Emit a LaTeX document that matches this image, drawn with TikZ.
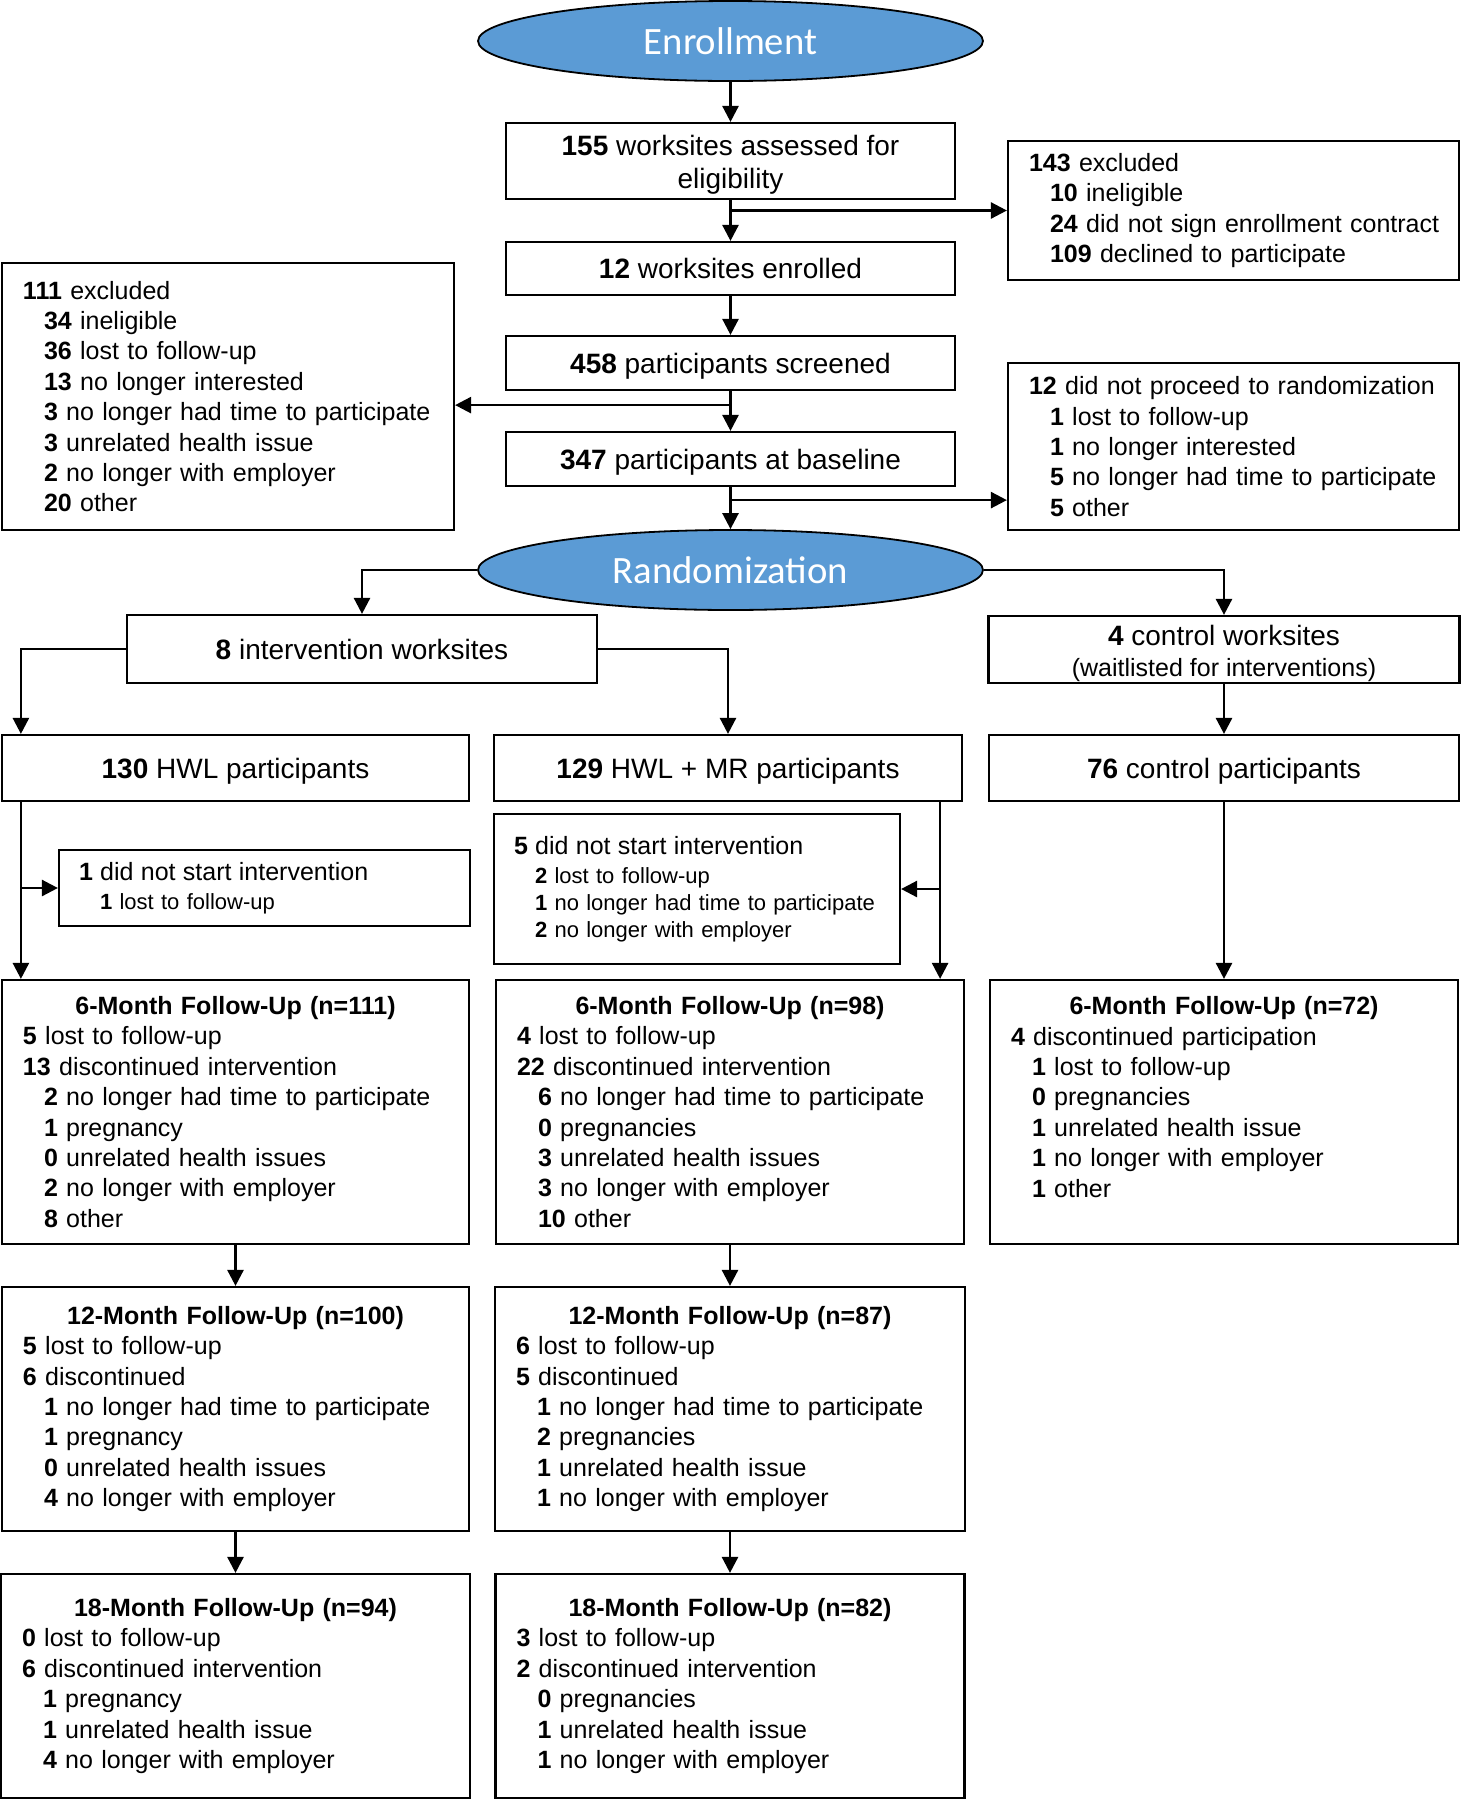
\documentclass[tikz,border=0pt]{standalone}
\usepackage{fontspec}
\setmainfont{Liberation Sans}
\newfontfamily\calibri{Carlito}
\definecolor{stageblue}{RGB}{91, 155, 213}
\usetikzlibrary{positioning, shapes.geometric, calc, arrows.meta}
\newcommand{\boxfont}{\fontsize{14pt}{16.8pt}\selectfont}
\newcommand{\listfont}{\fontsize{12.5pt}{15.2pt}\selectfont}
\newcommand{\dnsfont}{\fontsize{11pt}{13.5pt}\selectfont}
\newcommand{\subitm}{\hspace*{10.5pt}}
\newcommand{\hdr}[1]{\makebox[\hsize]{\textbf{#1}}}

\begin{document}
\begin{tikzpicture}[x=0.5pt, y=-0.5pt,
		stage/.style={ellipse, draw, line width=0.9pt, fill=stageblue, text=white, font=\calibri\fontsize{19.35pt}{23pt}\selectfont, minimum width=252.5pt, minimum height=40pt, inner sep=0pt},
		mainbox/.style={draw, line width=1.1pt, align=center, font=\boxfont, inner sep=0pt, minimum width=224.5pt},
		oneline/.style={mainbox, text height=13pt, text depth=3pt},
		listbox/.style={draw, line width=1.1pt, align=left, font=\listfont, inner xsep=10.5pt, inner ysep=0pt},
		dnsbox/.style={listbox, font=\dnsfont, inner xsep=10pt},
		arr/.style={line width=1.3pt, -{Triangle[length=8pt, width=8pt]}}
		]
		\useasboundingbox (0,0) rectangle (1462,1800);
		
		% enrollment
		\node[stage] (enr) at (730.5,41) {Enrollment};
		\node[mainbox, minimum height=38pt] (site) at (730.5,161) {\rule{0pt}{14pt}\textbf{155} worksites assessed for\\eligibility};
		\node[listbox, text width=204.5pt, minimum height=69.5pt] (excl1) at (1233.5,210.5) {\textbf{143} excluded\\
			\subitm\textbf{10} ineligible\\
			\subitm\mbox{\textbf{24} did not sign enrollment contract}\\
			\subitm\textbf{109} declined to participate};
		\node[oneline, minimum height=26.5pt] (enrolled) at (730.5,268.5) {\textbf{12} worksites enrolled};
		\node[oneline, minimum height=27pt] (screened) at (730.5,363) {\textbf{458} participants screened};
		\node[listbox, text width=205pt, minimum height=133.5pt] (excl2) at (228,396.5) {\textbf{111} excluded\\
			\subitm\textbf{34} ineligible\\
			\subitm\textbf{36} lost to follow-up\\
			\subitm\textbf{13} no longer interested\\
			\subitm\mbox{\textbf{3} no longer had time to participate}\\
			\subitm\textbf{3} unrelated health issue\\
			\subitm\textbf{2} no longer with employer\\
			\subitm\textbf{20} other};
		\node[oneline, minimum height=27pt] (baseline) at (730.5,459) {\textbf{347} participants at baseline};
		\node[listbox, text width=204.5pt, minimum height=83.5pt] (excl3) at (1233.5,446.5) {\mbox{\textbf{12} did not proceed to randomization}\\
			\subitm\textbf{1} lost to follow-up\\
			\subitm\textbf{1} no longer interested\\
			\subitm\mbox{\textbf{5} no longer had time to participate}\\
			\subitm\textbf{5} other};
		
		% randomization
		\node[stage] (rand) at (730.5,570) {Randomization};
		\node[oneline, minimum width=235pt, minimum height=34pt] (intv) at (362,649) {\textbf{8} intervention worksites};
		\node[mainbox, minimum width=235.5pt, minimum height=33.5pt] (ctrlw) at (1224,649.5) {\rule{0pt}{14pt}\textbf{4} control worksites\\[-1pt]{\listfont (waitlisted for interventions)}};
		\node[oneline, minimum width=233.5pt, minimum height=33pt] (hwl) at (235.5,768) {\textbf{130} HWL participants};
		\node[oneline, minimum width=234pt, minimum height=33pt] (hwlmr) at (728,768) {\textbf{129} HWL + MR participants};
		\node[oneline, minimum width=235pt, minimum height=33pt] (ctrl) at (1224,768) {\textbf{76} control participants};
		\node[dnsbox, text width=185.5pt, minimum height=38pt] (dns1) at (264.5,888) {{\listfont\textbf{1} did not start intervention}\\[1pt]
			\subitm\textbf{1} lost to follow-up};
		\node[dnsbox, text width=183pt, minimum height=75pt] (dns2) at (697,889) {{\listfont\textbf{5} did not start intervention}\\[1pt]
			\subitm\textbf{2} lost to follow-up\\
			\subitm\mbox{\textbf{1} no longer had time to participate}\\
			\subitm\textbf{2} no longer with employer};
		
		% follow-up
		\node[listbox, text width=212.5pt, minimum height=132pt] (f6a) at (235.5,1112) {\hdr{6-Month Follow-Up (n=111)}\\
			\textbf{5} lost to follow-up\\
			\textbf{13} discontinued intervention\\
			\subitm\mbox{\textbf{2} no longer had time to participate}\\
			\subitm\textbf{1} pregnancy\\
			\subitm\textbf{0} unrelated health issues\\
			\subitm\textbf{2} no longer with employer\\
			\subitm\textbf{8} other};
		\node[listbox, text width=213pt, minimum height=132pt] (f6b) at (730,1112) {\hdr{6-Month Follow-Up (n=98)}\\
			\textbf{4} lost to follow-up\\
			\textbf{22} discontinued intervention\\
			\subitm\mbox{\textbf{6} no longer had time to participate}\\
			\subitm\textbf{0} pregnancies\\
			\subitm\textbf{3} unrelated health issues\\
			\subitm\textbf{3} no longer with employer\\
			\subitm\textbf{10} other};
		\node[listbox, text width=213pt, minimum height=132pt] (f6c) at (1224,1112) {\hdr{6-Month Follow-Up (n=72)}\\
			\textbf{4} discontinued participation\\
			\subitm\textbf{1} lost to follow-up\\
			\subitm\textbf{0} pregnancies\\
			\subitm\textbf{1} unrelated health issue\\
			\subitm\textbf{1} no longer with employer\\
			\subitm\textbf{1} other\\
			\mbox{}};
		\node[listbox, text width=212.5pt, minimum height=122pt] (f12a) at (235.5,1409) {\hdr{12-Month Follow-Up (n=100)}\\
			\textbf{5} lost to follow-up\\
			\textbf{6} discontinued\\
			\subitm\mbox{\textbf{1} no longer had time to participate}\\
			\subitm\textbf{1} pregnancy\\
			\subitm\textbf{0} unrelated health issues\\
			\subitm\textbf{4} no longer with employer};
		\node[listbox, text width=214pt, minimum height=122pt] (f12b) at (730,1409) {\hdr{12-Month Follow-Up (n=87)}\\
			\textbf{6} lost to follow-up\\
			\textbf{5} discontinued\\
			\subitm\mbox{\textbf{1} no longer had time to participate}\\
			\subitm\textbf{2} pregnancies\\
			\subitm\textbf{1} unrelated health issue\\
			\subitm\textbf{1} no longer with employer};
		\node[listbox, text width=213.5pt, minimum height=112pt] (f18a) at (235.5,1686) {\hdr{18-Month Follow-Up (n=94)}\\
			\textbf{0} lost to follow-up\\
			\textbf{6} discontinued intervention\\
			\subitm\textbf{1} pregnancy\\
			\subitm\textbf{1} unrelated health issue\\
			\subitm\textbf{4} no longer with employer};
		\node[listbox, text width=213.5pt, minimum height=112pt] (f18b) at (730,1686) {\hdr{18-Month Follow-Up (n=82)}\\
			\textbf{3} lost to follow-up\\
			\textbf{2} discontinued intervention\\
			\subitm\textbf{0} pregnancies\\
			\subitm\textbf{1} unrelated health issue\\
			\subitm\textbf{1} no longer with employer};
		
		% connectors
		\draw[arr] (enr) -- (site);
		\draw[arr] (site) -- (enrolled);
		\draw[arr] (site.south |- excl1.west) -- (excl1.west);
		\draw[arr] (enrolled) -- (screened);
		\draw[arr] (screened) -- (baseline);
		\coordinate (b1) at ($(screened.south)+(0,14)$);
		\draw[arr] (b1) -- (b1 -| excl2.east);
		\draw[arr] (baseline) -- (rand);
		\coordinate (b2) at ($(baseline.south)+(0,13)$);
		\draw[arr] (b2) -- (b2 -| excl3.west);
		\draw[arr] (rand.west) -| (intv.north);
		\draw[arr] (rand.east) -| (ctrlw.north);
		\draw[arr] (intv.west) -| ($(hwl.north west)+(20,0)$);
		\draw[arr] (intv.east) -| (hwlmr.north);
		\draw[arr] (ctrlw) -- (ctrl);
		\coordinate (l1) at ($(hwl.south west)+(20,0)$);
		\draw[arr] (l1) -- (l1 |- f6a.north);
		\draw[arr] (l1 |- dns1.west) -- (dns1.west);
		\coordinate (l2) at ($(hwlmr.south east)+(-23,0)$);
		\draw[arr] (l2) -- (l2 |- f6b.north);
		\draw[arr] (l2 |- dns2.east) -- (dns2.east);
		\draw[arr] (ctrl) -- (f6c);
		\foreach \col in {a,b}{
			\draw[arr] (f6\col) -- (f12\col);
			\draw[arr] (f12\col) -- (f18\col);
		}
		
	\end{tikzpicture}
\end{document}
